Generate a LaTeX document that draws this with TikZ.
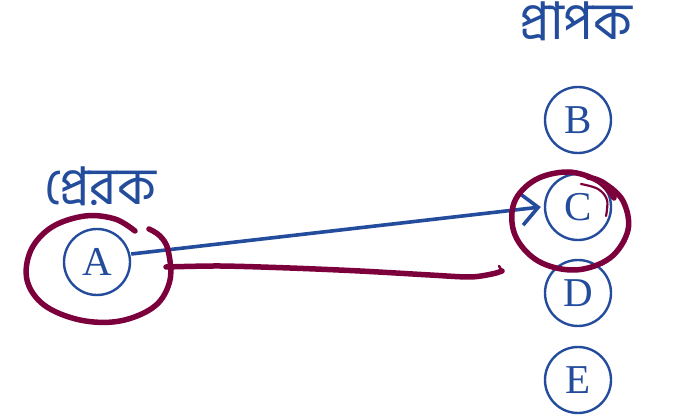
\documentclass[tikz,border=0pt]{standalone}
\usepackage{fontspec}
\setmainfont{Liberation Serif}
\newfontfamily\bnfont[Script=Bengali]{Hind Siliguri}
\usetikzlibrary{arrows.meta}
\definecolor{dblue}{RGB}{36,76,156}
\definecolor{maroon}{RGB}{124,0,60}
\tikzset{
  peer/.style={circle,draw=dblue,line width=2.4pt,minimum size=66pt,inner sep=0pt,
    text=dblue,font=\fontsize{41}{41}\selectfont},
  role/.style={text=dblue,font=\bnfont\fontsize{52}{56}\selectfont,inner sep=0pt},
  link/.style={draw=dblue,line width=3.6pt,-{Straight Barb[length=17pt,width=32pt,line width=3.6pt]}},
  ink/.style={draw=maroon,line width=5.5pt,line cap=round,line join=round}
}
\begin{document}
\begin{tikzpicture}[x=1pt,y=-1pt]
\useasboundingbox[fill=white] (0,0) rectangle (682,419);
\node[peer] (A) at (97,262) {A};
\node[peer] (B) at (578,120) {B};
\node[peer] (C) at (578,207) {C};
\node[peer] (D) at (578,293) {D};
\node[peer] (E) at (578,380) {E};
\node[role] (recv) at (576,21) {প্রাপক};
\node[role] (send) at (100,186) {প্রেরক};
\draw[link] (A.east) ++(0,-8) -- ([xshift=-3pt]C.west);
% freehand loop round A
\draw[ink] plot[smooth,tension=0.6] coordinates {(135,231) (115,219) (85,216) (52,227) (31,250) (27,280) (44,305) (80,320) (120,321) (155,306) (170,280) (168,250) (160,236) (149,229)};
% freehand underline
\draw[ink] plot[smooth,tension=0.5] coordinates {(166,267) (220,266) (290,268) (360,271) (430,275) (470,277) (492,274) (502,271)};
\draw[ink,line width=2.5pt] (502,271) -- (499,266);
% freehand loop round C
\draw[ink] plot[smooth,tension=0.6] coordinates {(614,198) (598,181) (568,172) (535,180) (514,203) (515,235) (538,261) (575,270) (610,258) (628,230) (623,201) (604,183) (588,177)};
\draw[ink,line width=2.2pt] plot[smooth,tension=0.6] coordinates {(581,184) (598,189) (607,200) (606,216)};
\end{tikzpicture}
\end{document}
